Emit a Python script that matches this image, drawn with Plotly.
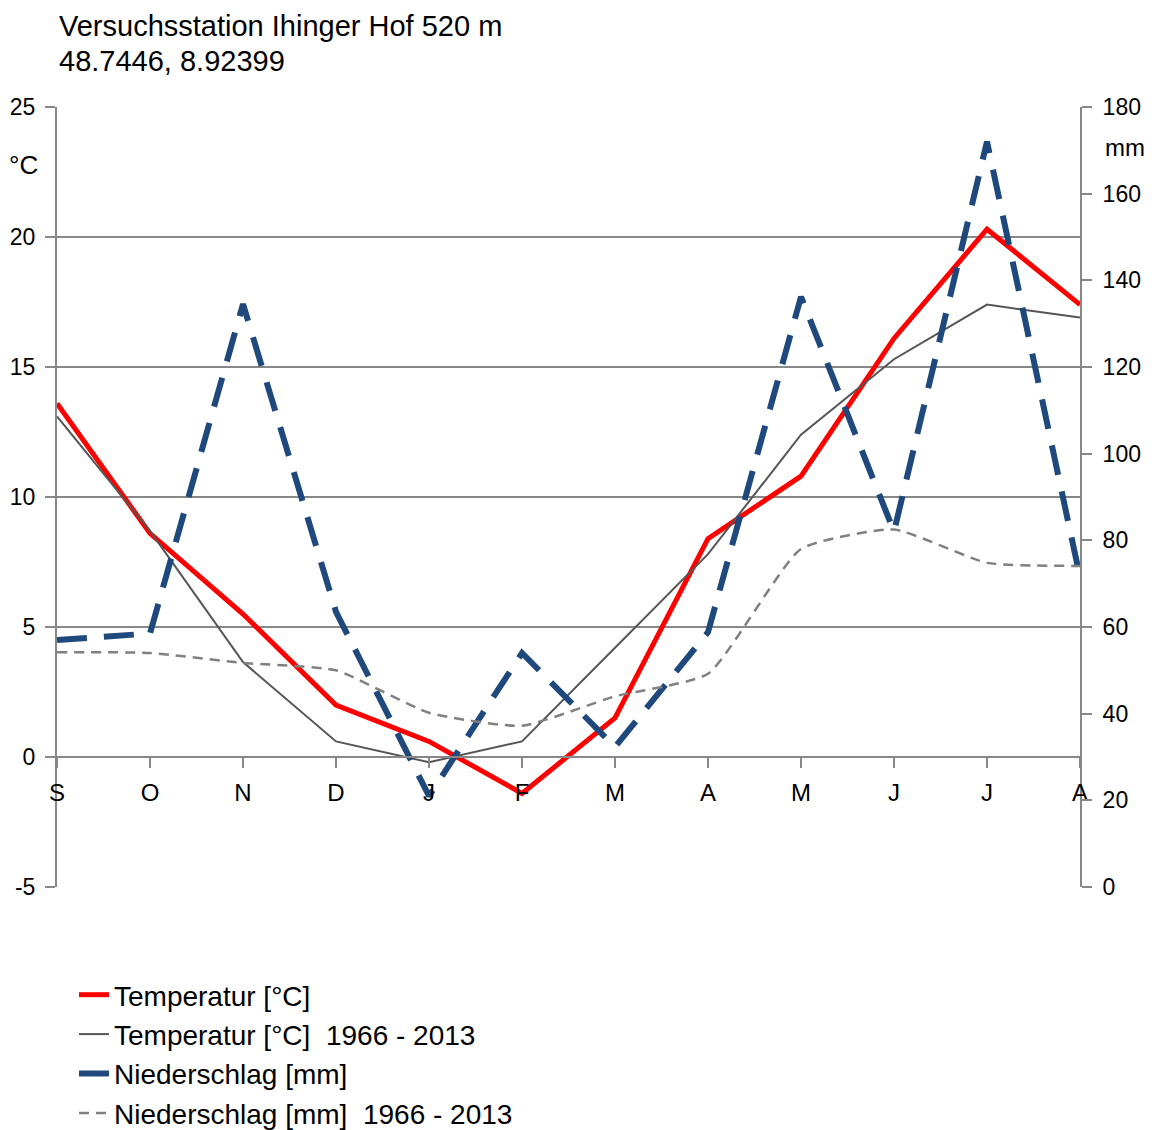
import plotly.graph_objects as go

months = ["S", "O", "N", "D", "J", "F", "M", "A", "M", "J", "J", "A"]
temp = [13.6, 8.6, 5.5, 2.0, 0.6, -1.4, 1.5, 8.4, 10.8, 16.1, 20.3, 17.4]
temp_avg = [13.1, 8.7, 3.65, 0.6, -0.2, 0.6, 4.2, 7.8, 12.4, 15.3, 17.4, 16.9]
precip = [57.0, 58.5, 134.5, 63.5, 21.0, 54.0, 32.3, 58.8, 136.2, 82.0, 172.0, 71.5]
precip_avg = [54.2, 54.0, 51.7, 50.0, 40.2, 37.2, 44.0, 49.2, 78.0, 82.5, 74.8, 74.1]
temp_ticks = [-5, 0, 5, 10, 15, 20, 25]
temp_ticktext = ["-5", "0", "5", "10", "15", "20", "25"]

x = list(range(len(months)))
FONT = "Liberation Sans, Arial, sans-serif"
AX = "#888888"

fig = go.Figure()
fig.add_trace(go.Scatter(x=x, y=temp, name="Temperatur [°C]", mode="lines",
                         line=dict(color="#FF0000", width=5), yaxis="y"))
fig.add_trace(go.Scatter(x=x, y=temp_avg, name="Temperatur [°C]  1966 - 2013", mode="lines",
                         line=dict(color="#555555", width=2), yaxis="y"))
fig.add_trace(go.Scatter(x=x, y=precip, name="Niederschlag [mm]", mode="lines",
                         line=dict(color="#1F497D", width=6, dash="30px,17px"), yaxis="y2"))
fig.add_trace(go.Scatter(x=x, y=precip_avg, name="Niederschlag [mm]  1966 - 2013", mode="lines",
                         line=dict(color="#808080", width=2.5, dash="10px,7px", shape="spline", smoothing=0.5),
                         yaxis="y2"))

fig.update_layout(
    width=1149, height=1122,
    margin=dict(l=49, r=77, t=99, b=243, autoexpand=False),
    paper_bgcolor="white", plot_bgcolor="white",
    font=dict(family=FONT, size=23, color="black"),
    showlegend=True,
    legend=dict(x=0.0166, y=-0.1064, xanchor="left", yanchor="top",
                font=dict(size=28, family=FONT, color="black"),
                bgcolor="rgba(0,0,0,0)", itemwidth=30, tracegroupgap=0),
    xaxis=dict(range=[0, 11], tickmode="array", tickvals=x, ticktext=months,
               showgrid=False, zeroline=False, showline=True, linecolor=AX, linewidth=2,
               ticks="outside", ticklen=10, tickcolor=AX, tickwidth=2, automargin=False,
               anchor="free", position=1/6, tickfont=dict(size=24, family=FONT), ticklabelstandoff=4),
    yaxis=dict(range=[-5, 25], tickmode="array", tickvals=temp_ticks, ticktext=temp_ticktext,
               showgrid=True, gridcolor=AX, gridwidth=2, automargin=False,
               zeroline=False, showline=True, linecolor=AX, linewidth=2,
               ticks="outside", ticklen=10, tickcolor=AX, tickwidth=2,
               tickfont=dict(size=23, family=FONT), ticklabelstandoff=5),
    yaxis2=dict(range=[0, 180], dtick=20, overlaying="y", side="right", showgrid=False,
                zeroline=False, showline=True, linecolor=AX, linewidth=2, automargin=False,
                ticks="outside", ticklen=10, tickcolor=AX, tickwidth=2,
                tickfont=dict(size=23, family=FONT), ticklabelstandoff=6),
)

fig.add_annotation(text="Versuchsstation Ihinger Hof 520 m",
                   xref="paper", yref="paper", x=0.0, y=1.127,
                   xanchor="left", yanchor="top", align="left", showarrow=False,
                   font=dict(size=29, family=FONT, color="black"))
fig.add_annotation(text="48.7446, 8.92399",
                   xref="paper", yref="paper", x=0.0, y=1.082,
                   xanchor="left", yanchor="top", align="left", showarrow=False,
                   font=dict(size=29, family=FONT, color="black"))
fig.add_annotation(text="°C", xref="paper", yref="paper", x=-0.0489, y=0.9256,
                   xanchor="left", yanchor="middle", showarrow=False,
                   font=dict(size=26, family=FONT, color="black"))
fig.add_annotation(text="mm", xref="paper", yref="paper", x=1.0225, y=0.9487,
                   xanchor="left", yanchor="middle", showarrow=False,
                   font=dict(size=24, family=FONT, color="black"))

fig.write_html("out.html")
